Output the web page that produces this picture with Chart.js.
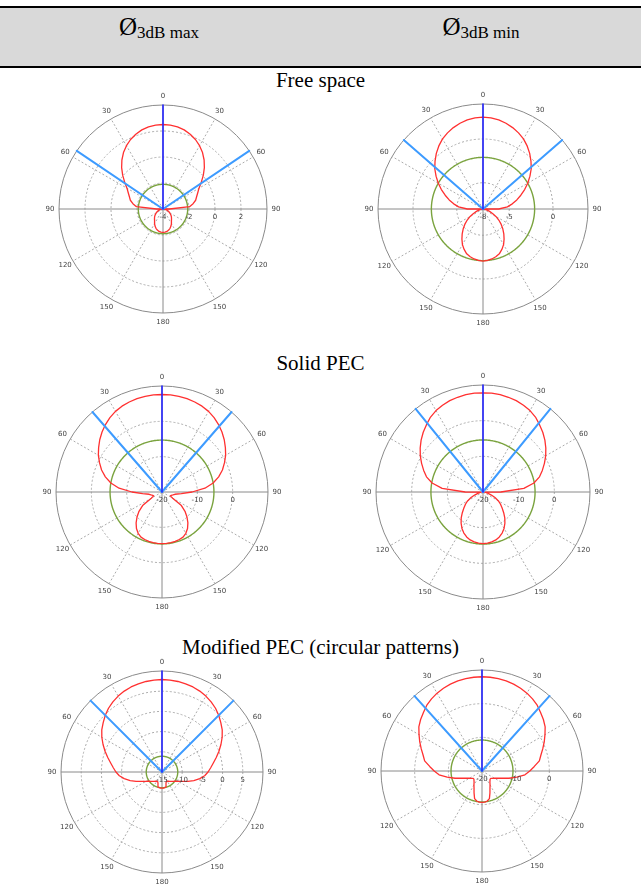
<!DOCTYPE html>
<html><head><meta charset="utf-8">
<script src="https://cdn.jsdelivr.net/npm/chart.js@4.4.1/dist/chart.umd.min.js"></script>
<style>
html,body{margin:0;padding:0;background:#fff;}
body{width:641px;height:886px;position:relative;overflow:hidden;font-family:"Liberation Serif","Times New Roman",serif;color:#000;}
#hdr{position:absolute;left:0;top:6px;width:641px;height:62px;box-sizing:border-box;border-top:2px solid #000;border-bottom:2px solid #000;background:#d9d9d9;}
.colhead{position:absolute;top:14px;width:200px;text-align:center;white-space:nowrap;font-size:25px;line-height:25px;}
.colhead .sub{font-size:17px;position:relative;top:3px;}
.sect{position:absolute;left:0;width:641px;text-align:center;font-size:21px;line-height:21px;white-space:nowrap;}
canvas{position:absolute;}
</style></head>
<body>
<div id="hdr"></div>
<script>
// ---------------- data ----------------
const sectionTitles = ['Free space', 'Solid PEC', 'Modified PEC (circular patterns)'];
const columnSymbol = '\u00D8';
const columnSubscripts = ['3dB max', '3dB min'];
const angleTickLabels = ['0','30','60','90','120','150','180','150','120','90','60','30'];
const patternAnglesDeg = [0,5,10,15,20,25,30,35,40,45,50,55,60,65,70,75,80,85,90,95,100,105,110,115,120,125,130,135,140,145,150,155,160,165,170,175,180,
  185,190,195,200,205,210,215,220,225,230,235,240,245,250,255,260,265,270,275,280,285,290,295,300,305,310,315,320,325,330,335,340,345,350,355];

// gain patterns (dB), one value per entry of patternAnglesDeg
const freeSpaceMax = [2.5,2.48,2.42,2.3,2.12,1.9,1.62,1.3,0.92,0.5,0.05,-0.4,-0.8,-1.05,-1.25,-1.4,-1.65,-1.95,-3.5,-4,-3.85,-3.72,-3.6,-3.5,-3.4,-3.3,-3.18,-3.08,-2.98,-2.87,-2.7,-2.55,-2.42,-2.32,-2.25,-2.21,-2.2,
  -2.21,-2.25,-2.32,-2.42,-2.55,-2.7,-2.87,-2.98,-3.08,-3.18,-3.3,-3.4,-3.5,-3.6,-3.72,-3.85,-4,-3.5,-1.95,-1.65,-1.4,-1.25,-1.05,-0.8,-0.4,0.05,0.5,0.92,1.3,1.62,1.9,2.12,2.3,2.42,2.48];
const freeSpaceMin = [2.5,2.45,2.35,2.15,1.9,1.6,1.25,0.8,0.3,-0.25,-0.8,-1.45,-2.1,-2.75,-3.4,-4.0,-4.6,-5.2,-6.2,-8,-7.8,-7.5,-7.2,-6.8,-6.3,-5.8,-5.3,-4.8,-4.3,-3.8,-3.3,-2.9,-2.55,-2.35,-2.2,-2.1,-2.05,
  -2.1,-2.2,-2.35,-2.55,-2.9,-3.3,-3.8,-4.3,-4.8,-5.3,-5.8,-6.3,-6.8,-7.2,-7.5,-7.8,-8,-6.2,-5.2,-4.6,-4.0,-3.4,-2.75,-2.1,-1.45,-0.8,-0.25,0.3,0.8,1.25,1.6,1.9,2.15,2.35,2.45];
const solidPecMax = [7.6,7.6,7.5,7.35,7.1,6.8,6.35,5.7,4.9,4.0,3.0,1.9,0.8,-0.5,-1.8,-3.4,-5.3,-7.8,-11.5,-14.5,-16.3,-16.8,-17.2,-17.4,-16.5,-13.3,-11.5,-10.0,-8.6,-7.4,-6.5,-5.9,-5.7,-5.55,-5.45,-5.4,-5.4,
  -5.4,-5.45,-5.55,-5.7,-5.9,-6.5,-7.4,-8.6,-10.0,-11.5,-13.3,-16.5,-17.4,-17.2,-16.8,-16.3,-14.5,-11.5,-7.8,-5.3,-3.4,-1.8,-0.5,0.8,1.9,3.0,4.0,4.9,5.7,6.35,6.8,7.1,7.35,7.5,7.6];
const solidPecMin = [7.8,7.8,7.7,7.5,7.25,6.85,6.35,5.65,4.65,3.7,2.65,1.5,0.3,-1.0,-2.3,-3.6,-5.5,-8.5,-15.0,-19.5,-19.2,-18.5,-17.5,-16.3,-15.0,-14.0,-13.0,-11.8,-10.5,-9.3,-8.2,-7.3,-6.6,-6.1,-5.8,-5.6,-5.5,
  -5.6,-5.8,-6.1,-6.6,-7.3,-8.2,-9.3,-10.5,-11.8,-13.0,-14.0,-15.0,-16.3,-17.5,-18.5,-19.2,-19.5,-15.0,-8.5,-5.5,-3.6,-2.3,-1.0,0.3,1.5,2.65,3.7,4.65,5.65,6.35,6.85,7.25,7.5,7.7,7.8];
const modPecMax = [7.9,7.85,7.75,7.6,7.4,7.1,6.7,6.2,5.6,4.85,4.0,3.2,2.2,1.1,0.0,-1.1,-2.1,-2.9,-3.6,-4.4,-5.5,-6.85,-8.2,-9.5,-10.4,-11.0,-11.4,-11.75,-12.0,-12.2,-12.35,-12.45,-12.1,-11.15,-11.05,-11.0,-11.0,
  -11.0,-11.05,-11.15,-12.1,-12.45,-12.35,-12.2,-12.0,-11.75,-11.4,-11.0,-10.4,-9.5,-8.2,-6.85,-5.5,-4.4,-3.6,-2.9,-2.1,-1.1,0.0,1.1,2.2,3.2,4.0,4.85,5.6,6.2,6.7,7.1,7.4,7.6,7.75,7.85];
const modPecMin = [8.0,7.95,7.85,7.7,7.45,7.1,6.7,6.15,5.5,4.6,3.8,2.9,1.6,0.4,-0.8,-1.9,-2.7,-4.4,-5.8,-7.2,-9.5,-11.7,-13.7,-14.9,-15.7,-16.2,-16.6,-16.6,-16.3,-15.9,-15.2,-14.4,-13.1,-11.5,-10.95,-10.75,-10.7,
  -10.75,-10.95,-11.5,-13.1,-14.4,-15.2,-15.9,-16.3,-16.6,-16.6,-16.2,-15.7,-14.9,-13.7,-11.7,-9.5,-7.2,-5.8,-4.4,-2.7,-1.9,-0.8,0.4,1.6,2.9,3.8,4.6,5.5,6.15,6.7,7.1,7.45,7.7,7.85,7.95];

// constant (circular) reference pattern level of each plot, dB
const referenceLevels = [-2.1, -2.1, -5.3, -5.4, -11.1, -10.8];
// half-power beam edge angle of each plot, degrees
const halfPowerAngles = [56, 49, 41, 39, 45, 42];
// radial axis range and labelled ticks of each plot
const radialMin = [-4, -8, -20, -20, -15, -20];
const radialMax = [4, 4, 10, 10, 10, 10];
const radialTicks = [[-4,-2,0,2], [-8,-5,0], [-20,-10,0], [-20,-10,0], [-15,-10,-5,0,5], [-20,-10,0]];

// ---------------- layout (page placement only) ----------------
const placement = [
  {cx:163, cy:209, R:104},
  {cx:483, cy:209, R:105},
  {cx:162, cy:492, R:106},
  {cx:483, cy:492, R:107},
  {cx:162, cy:772, R:101},
  {cx:482, cy:771, R:101}
];
const sectionTop = [70, 353, 637];
const headerCenters = [159, 481];
const PAD = 30;

// ---------------- text ----------------
columnSubscripts.forEach((s, i) => {
  const d = document.createElement('div');
  d.className = 'colhead';
  d.style.left = (headerCenters[i] - 100) + 'px';
  d.innerHTML = columnSymbol + '<span class="sub">' + s + '</span>';
  document.body.appendChild(d);
});
sectionTitles.forEach((t, i) => {
  const d = document.createElement('div');
  d.className = 'sect';
  d.style.top = sectionTop[i] + 'px';
  d.textContent = t;
  document.body.appendChild(d);
});

// ---------------- charts ----------------
const degreeLabels = [];
for (let a = 0; a < 360; a++) degreeLabels.push(String(a));

function onDegrees(values) {
  const arr = new Array(360).fill(null);
  patternAnglesDeg.forEach((a, k) => { arr[a] = values[k]; });
  return arr;
}

const polarText = {
  id: 'polarText',
  afterDraw(chart, args, opts) {
    const s = chart.scales.r;
    const ctx = chart.ctx;
    ctx.save();
    ctx.font = '7px "DejaVu Sans", sans-serif';
    ctx.fillStyle = '#444';
    ctx.textAlign = 'center';
    ctx.textBaseline = 'middle';
    angleTickLabels.forEach((t, k) => {
      const p = s.getPointPosition(k * 30, s.drawingArea + 9);
      ctx.fillText(t, p.x, p.y);
    });
    (opts.ticks || []).forEach(v => {
      const d = s.getDistanceFromCenterForValue(v);
      ctx.fillText(String(v), s.xCenter + d, s.yCenter + 8);
    });
    ctx.restore();
  }
};

const gains = [freeSpaceMax, freeSpaceMin, solidPecMax, solidPecMin, modPecMax, modPecMin];

gains.forEach((g, i) => {
  const L = placement[i];
  const mn = radialMin[i], mx = radialMax[i];
  const size = Math.round(2 * L.R) + 2 * PAD;
  const cv = document.createElement('canvas');
  cv.width = size; cv.height = size;
  cv.style.width = size + 'px'; cv.style.height = size + 'px';
  document.body.appendChild(cv);

  const dark = new Array(360).fill(null); dark[0] = mx; dark[1] = mn;
  const beamR = new Array(360).fill(null); beamR[0] = mn; beamR[halfPowerAngles[i]] = mx;
  const beamL = new Array(360).fill(null); beamL[0] = mn; beamL[360 - halfPowerAngles[i]] = mx;
  const ref = new Array(360).fill(referenceLevels[i]);
  const gridValues = radialTicks[i].concat([mx]);
  const lineStyle = {spanGaps: true, fill: false, borderJoinStyle: 'round', borderCapStyle: 'butt'};

  const chart = new Chart(cv, {
    type: 'radar',
    data: {
      labels: degreeLabels,
      datasets: [
        Object.assign({data: dark, borderColor: '#2626ff', borderWidth: 1.6}, lineStyle),
        Object.assign({data: beamR, borderColor: '#3d9bff', borderWidth: 2}, lineStyle),
        Object.assign({data: beamL, borderColor: '#3d9bff', borderWidth: 2}, lineStyle),
        Object.assign({data: onDegrees(g), borderColor: '#ff3030', borderWidth: 1.3}, lineStyle),
        Object.assign({data: ref, borderColor: '#7aa33e', borderWidth: 1.4}, lineStyle)
      ]
    },
    options: {
      responsive: false,
      animation: false,
      events: [],
      devicePixelRatio: 1,
      layout: {padding: PAD},
      elements: {point: {radius: 0, hoverRadius: 0, hitRadius: 0}, line: {tension: 0}},
      plugins: {legend: {display: false}, tooltip: {enabled: false}, polarText: {ticks: radialTicks[i]}},
      scales: {
        r: {
          min: mn, max: mx,
          startAngle: 0,
          beginAtZero: false,
          afterBuildTicks: (scale) => { scale.ticks = gridValues.map(v => ({value: v})); },
          ticks: {display: false},
          pointLabels: {display: false},
          grid: {
            circular: true,
            color: (c) => (c.tick && c.tick.value === mx) ? '#8a8a8a' : '#ababab',
            lineWidth: (c) => (c.tick && c.tick.value === mn) ? 0 : 1,
            borderDash: (c) => (c.tick && c.tick.value === mx) ? [] : [2, 2]
          },
          border: {
            dash: (c) => (c.tick && c.tick.value === mx) ? [] : [2, 2]
          },
          angleLines: {
            display: true,
            color: (c) => c.index % 90 === 0 ? '#8a8a8a' : '#ababab',
            lineWidth: (c) => c.index % 30 === 0 ? 1 : 0,
            borderDash: (c) => c.index % 90 === 0 ? [] : [2, 2]
          }
        }
      }
    },
    plugins: [polarText]
  });
  const s = chart.scales.r;
  cv.style.left = (L.cx - s.xCenter) + 'px';
  cv.style.top = (L.cy - s.yCenter) + 'px';
});
</script>
</body></html>
